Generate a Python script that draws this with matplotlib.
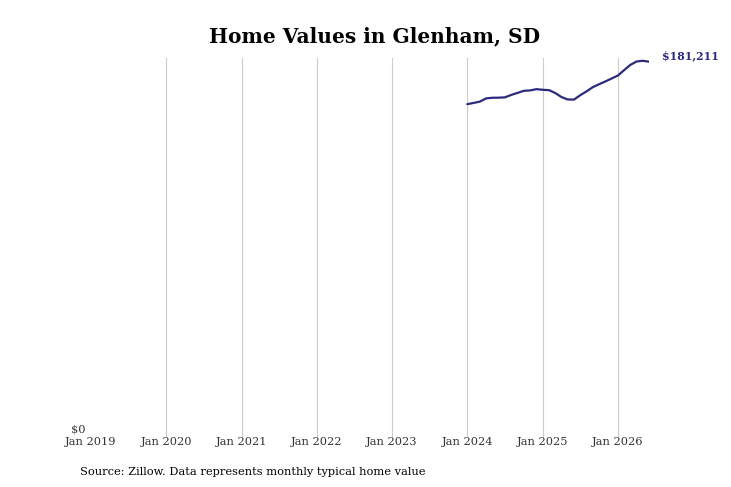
import matplotlib
matplotlib.use("Agg")
import matplotlib.pyplot as plt
import matplotlib.transforms as mtransforms
import pandas as pd

dates = pd.date_range("2024-01-01", periods=30, freq="MS")
values = [160480, 161100, 161700, 163300, 163600, 163650, 163800, 165000,
          166000, 167000, 167200, 167800, 167500, 167300, 166000, 164000,
          162800, 162700, 164800, 166700, 168800, 170200, 171600, 173000,
          174500, 177200, 179600, 181300, 181650, 181211]
tick_years = list(range(2019, 2027))
tick_labels = [f"Jan {y}" for y in tick_years]
title = "Home Values in Glenham, SD"
source = "Source: Zillow. Data represents monthly typical home value"

color = "#2d2a7e"
plt.rcParams['font.family'] = ['DejaVu Serif']

fig = plt.figure(figsize=(7.31, 4.87), dpi=100)
ax = fig.add_axes([0.1245, 0.1027, 0.7635, 0.7776])
ax.plot(dates, values, color=color, lw=1.6, solid_capstyle='round')

ax.set_xlim(pd.Timestamp("2019-01-01"), dates[-1])
ax.set_ylim(-1950, 182870)
ax.set_xticks([pd.Timestamp(f"{y}-01-01") for y in tick_years])
ax.set_xticklabels(tick_labels, fontsize=8.2, color="#333333")
ax.set_yticks([0])
ax.set_yticklabels(["$0"], fontsize=8.2, color="#333333")
ax.tick_params(axis='both', length=0)
ax.tick_params(axis='x', pad=0)
ax.tick_params(axis='y', pad=4)
offset = mtransforms.ScaledTranslation(0, 3 / 72, fig.dpi_scale_trans)
for lbl in ax.get_yticklabels():
    lbl.set_transform(lbl.get_transform() + offset)
ax.grid(axis='y', visible=False)
for s in ax.spines.values():
    s.set_visible(False)
for d in tick_years[1:]:
    ax.axvline(pd.Timestamp(f"{d}-01-01"), color="#cccccc", lw=0.8, zorder=0)

ax.annotate(f"${values[-1]:,}", xy=(dates[-1], values[-1]), xytext=(9, 4),
            textcoords='offset points', fontsize=7.8, fontweight='bold',
            color=color, va='center', ha='left', annotation_clip=False)

fig.text(0.512, 0.926, title, ha='center', va='center', fontsize=14.5, fontweight='bold')
fig.text(0.109, 0.030, source, ha='left', va='center', fontsize=8.2)

fig.savefig("out.png", dpi=100)
